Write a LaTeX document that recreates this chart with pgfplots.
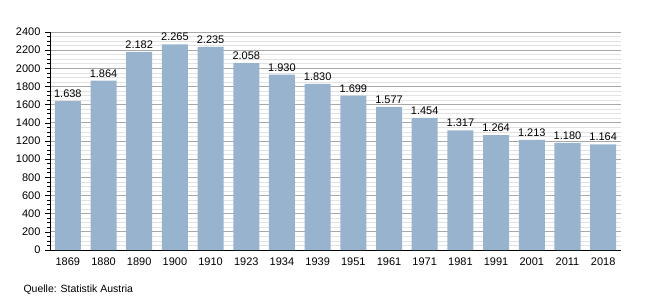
\documentclass[border=0pt]{standalone}
\usepackage{fontspec}
\setmainfont{Liberation Sans}
\usepackage{pgfplots}
\pgfplotsset{compat=1.18}
\definecolor{barc}{HTML}{98B3CE}
\definecolor{majg}{HTML}{A8A8A8}
\definecolor{ming}{HTML}{E2E2E2}
\begin{document}
\begin{tikzpicture}[x=1pt,y=1pt]
\useasboundingbox (0,0) rectangle (650,300);
\begin{axis}[
  at={(50pt,50pt)}, anchor=south west,
  scale only axis, width=571pt, height=218pt,
  xmin=-0.5, xmax=15.5, ymin=0, ymax=2400,
  axis lines*=left,
  axis line style={black, line width=0.9pt},
  xtick=data,
  xticklabels={1869,1880,1890,1900,1910,1923,1934,1939,1951,1961,1971,1981,1991,2001,2011,2018},
  x tick style={draw=none},
  ytick={0,200,...,2400},
  minor y tick num=3,
  tick align=outside,
  major tick length=5pt, minor tick length=3pt,
  y tick style={black, line width=0.6pt},
  ymajorgrids, yminorgrids,
  major grid style={majg, line width=0.8pt},
  minor grid style={ming, line width=0.6pt},
  tick label style={font=\fontsize{11}{13}\selectfont},
  /pgf/number format/assume math mode=true,
  yticklabel style={/pgf/number format/set thousands separator={}, xshift=-1pt},
  xticklabel style={yshift=1pt},
  ybar, bar width=0.73,
  nodes near coords,
  every node near coord/.append style={font=\fontsize{11}{13}\selectfont, text=black,
     /pgf/number format/assume math mode=true,
     /pgf/number format/1000 sep={.}, yshift=0pt},
  clip=false,
]
\addplot[fill=barc, draw=none] coordinates {
(0,1638) (1,1864) (2,2182) (3,2265) (4,2235) (5,2058) (6,1930) (7,1830)
(8,1699) (9,1577) (10,1454) (11,1317) (12,1264) (13,1213) (14,1180) (15,1164)};
\end{axis}
\node[anchor=west, font=\fontsize{10.5}{12}\selectfont] at (20,10) {Quelle: Statistik Austria};
\end{tikzpicture}
\end{document}
